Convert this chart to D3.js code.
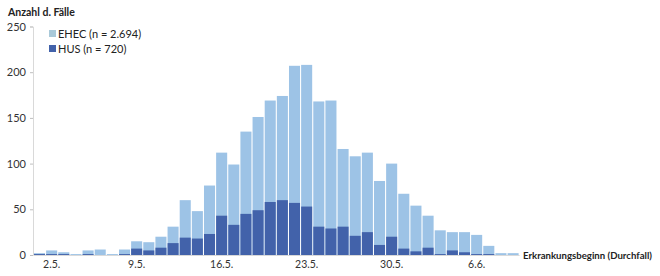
<!DOCTYPE html>
<html><head><meta charset="utf-8">
<script src="https://cdn.jsdelivr.net/npm/d3@7"></script>
<style>body{margin:0;background:#fff}svg{display:block;font-family:"Lato","Noto Sans",sans-serif}</style>
</head><body>
<svg id="c" width="660" height="276"></svg>
<script>
const days = ["1.5.","2.5.","3.5.","4.5.","5.5.","6.5.","7.5.","8.5.","9.5.","10.5.","11.5.","12.5.","13.5.","14.5.","15.5.","16.5.","17.5.","18.5.","19.5.","20.5.","21.5.","22.5.","23.5.","24.5.","25.5.","26.5.","27.5.","28.5.","29.5.","30.5.","31.5.","1.6.","2.6.","3.6.","4.6.","5.6.","6.6.","7.6.","8.6.","9.6."];
const ehec = [2,5,3,1,5,6,1,6,15,14,20,31,60,48,76,112,99,135,151,169,174,207,208,168,169,116,108,112,81,100,67,54,43,27,25,25,22,10,2,2];
const hus  = [1,1,1,0,1,0,0,1,7,5,8,13,19,18,23,43,33,45,49,58,60,57,53,31,29,31,21,25,11,20,7,4,8,1,5,3,1,1,0,0];
const yTicks = [0,50,100,150,200,250];
const xTickLabels = ["2.5.","9.5.","16.5.","23.5.","30.5.","6.6."];
const seriesNames = ["EHEC (n = 2.694)","HUS (n = 720)"];

const svg = d3.select("#c");
const x = d3.scaleBand().domain(days).range([33.5, 519.1]).paddingInner(0.09).paddingOuter(0.04);
const y = d3.scaleLinear().domain([0,250]).range([255, 26.5]);
const cE = "#9dc3e6", cH = "#4262aa";
const F = "Lato";

// y axis
const ya = svg.append("g").attr("transform","translate(33,0)")
  .call(d3.axisLeft(y).tickValues(yTicks).tickSize(3).tickPadding(4));
ya.select(".domain").attr("stroke","#d9d9d9");
ya.selectAll(".tick line").attr("stroke","#bfbfbf");
ya.selectAll("text").attr("font-size",11).attr("fill","#333").attr("font-family",F);

// bars
svg.append("g").selectAll("rect").data(days).join("rect")
  .attr("x", d=>x(d)).attr("width", x.bandwidth())
  .attr("y", (d,i)=>y(ehec[i])).attr("height",(d,i)=>y(0)-y(ehec[i]))
  .attr("fill", cE);
svg.append("g").selectAll("rect").data(days).join("rect")
  .attr("x", d=>x(d)).attr("width", x.bandwidth())
  .attr("y", (d,i)=>y(hus[i])).attr("height",(d,i)=>y(0)-y(hus[i]))
  .attr("fill", cH);

// x axis
const xa = svg.append("g").attr("transform","translate(0,255)")
  .call(d3.axisBottom(x).tickValues(xTickLabels).tickSize(0).tickPadding(6));
xa.select(".domain").attr("stroke","#d9d9d9");
xa.selectAll("text").attr("font-size",10.5).attr("fill","#333").attr("font-family",F);

// titles
svg.append("text").attr("x",8).attr("y",16).attr("font-size",10.5).attr("font-weight","bold").attr("fill","#222").attr("font-family",F).text("Anzahl d. Fälle");
const xl = svg.append("text").attr("x",523).attr("y",259).attr("font-size",10.5).attr("font-weight","bold").attr("fill","#222").attr("font-family",F).text("Erkrankungsbeginn (Durchfall)");
const w = xl.node().getComputedTextLength();
if (w > 129) xl.attr("font-size", 10.5*129/w);

// legend
const lg = svg.append("g");
const lc = [ "#a9c9d9", cH ];
seriesNames.forEach((n,i)=>{
  lg.append("rect").attr("x",49).attr("y",30+i*15).attr("width",7).attr("height",7).attr("fill",lc[i]);
  lg.append("text").attr("x",58).attr("y",37.5+i*15).attr("font-size",11).attr("fill","#222").attr("font-family",F).text(n);
});
</script>
</body></html>
